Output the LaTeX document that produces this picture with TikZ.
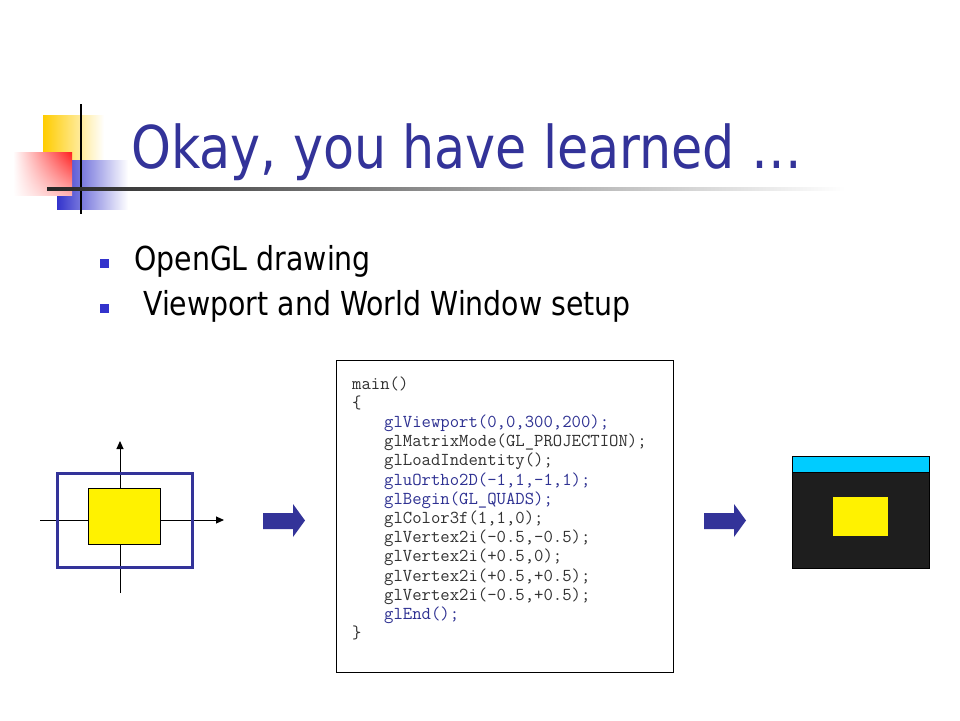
\documentclass[tikz,border=0pt]{standalone}
\usepackage{fontspec}
\setmainfont{DejaVu Sans}[FakeStretch=0.86]
\usepackage{tikz}
\usetikzlibrary{arrows.meta,positioning,shadings}

\begin{document}
\begin{tikzpicture}[
  x=1pt,
  y=-1pt,
  >={Triangle[length=8pt,width=7pt]},
  titletext/.style={inner sep=0pt, anchor=base west, text=titleblue, font=\fontsize{59}{70}\selectfont},
  itemtext/.style={inner sep=0pt, anchor=base west, font=\fontsize{33}{39}\selectfont},
  bulletsq/.style={fill=bulletblue, minimum size=9pt, inner sep=0pt},
  codeline/.style={inner sep=0pt, anchor=base west, font=\ttfamily\fontsize{18.2}{19.2}\selectfont},
  codebox/.style={draw=black, line width=0.8pt, anchor=north west, minimum width=337pt, minimum height=312pt, inner sep=0pt},
  axis/.style={draw=black, line width=1pt},
  quad/.style={fill=yellow, draw=black, line width=0.6pt, inner sep=0pt}
]
  \definecolor{titleblue}{RGB}{51,51,153}
  \definecolor{bulletblue}{RGB}{51,51,204}
  \definecolor{codeblue}{RGB}{46,49,146}
  \definecolor{codegray}{RGB}{50,50,50}
  \definecolor{logogold}{RGB}{255,204,0}
  \definecolor{logored}{RGB}{255,30,30}
  \definecolor{logoblue}{RGB}{51,51,204}
  \definecolor{screenbg}{RGB}{30,30,30}
  \definecolor{barcyan}{RGB}{0,204,255}

  \useasboundingbox (0,0) rectangle (960,720);
  \fill[white] (0,0) rectangle (960,720);

  % Logo squares in the top left corner
  \shade[left color=logogold, middle color=logogold, right color=white] (43,115) rectangle (104,160);
  \shade[left color=logoblue, middle color=logoblue, right color=white] (57,160) rectangle (128,209);
  \shade[upper left=white, upper right=logored, lower left=white, lower right=logored!35] (13,152) rectangle (72,195);
  \fill[black] (80,104) rectangle (82,214);
  \shade[left color=black!85, middle color=black!45, right color=white] (47,187) rectangle (845,190);

  % Title and bullets
  \node[titletext] (title) at (131,168) {Okay, you have learned …};
  \node[bulletsq] (dot1) at (104.5,263.5) {};
  \node[itemtext] (item1) at (134,270) {OpenGL drawing};
  \node[bulletsq] (dot2) at (104.5,308.5) {};
  \node[itemtext] (item2) at (134,315) {\ Viewport and World Window setup};

  % World window with axes
  \coordinate (xl) at (40,520);
  \coordinate (xr) at (224,520);
  \coordinate (yb) at (120,593);
  \coordinate (yt) at (120,441);
  \draw[axis,->] (xl) -- (xr);
  \draw[axis,->] (yb) -- (yt);
  \node[draw=titleblue, line width=3pt, minimum width=135pt, minimum height=94pt, inner sep=0pt] (world) at (124.5,520) {};
  \node[quad, minimum width=72pt, minimum height=56pt] (quadL) at (124,516) {};

  % Block arrows
  \foreach \ax in {263,704}{
    \fill[titleblue] (\ax,513) -- (\ax+30,513) -- (\ax+30,504) -- (\ax+42,520.5)
      -- (\ax+30,537) -- (\ax+30,529) -- (\ax,529) -- cycle;
  }

  % Program listing
  \node[codebox] (code) at (336,360) {};
  \foreach \i/\ind/\c/\t in {
    0/0/codegray/{main()},
    1/0/codegray/{\{},
    2/32/codeblue/{glViewport(0,0,300,200);},
    3/32/codegray/{glMatrixMode(GL\_PROJECTION);},
    4/32/codegray/{glLoadIndentity();},
    5/32/codeblue/{gluOrtho2D(-1,1,-1,1);},
    6/32/codeblue/{glBegin(GL\_QUADS);},
    7/32/codegray/{glColor3f(1,1,0);},
    8/32/codegray/{glVertex2i(-0.5,-0.5);},
    9/32/codegray/{glVertex2i(+0.5,0);},
    10/32/codegray/{glVertex2i(+0.5,+0.5);},
    11/32/codegray/{glVertex2i(-0.5,+0.5);},
    12/32/codeblue/{glEnd();},
    13/0/codegray/{\}}}{
    \node[codeline, text=\c] (line\i) at ({352+\ind},{389+19.2*\i}) {\t};
  }

  % Resulting screen
  \node[fill=screenbg, draw=black, line width=0.8pt, minimum width=137pt, minimum height=112pt, inner sep=0pt] (screen) at (860.5,512) {};
  \node[fill=barcyan, draw=black, line width=0.6pt, minimum width=137pt, minimum height=16pt, inner sep=0pt, anchor=north] (bar) at (screen.north) {};
  \node[fill=yellow, minimum width=55pt, minimum height=39pt, inner sep=0pt] (quadR) at (860.5,516.5) {};
\end{tikzpicture}
\end{document}
